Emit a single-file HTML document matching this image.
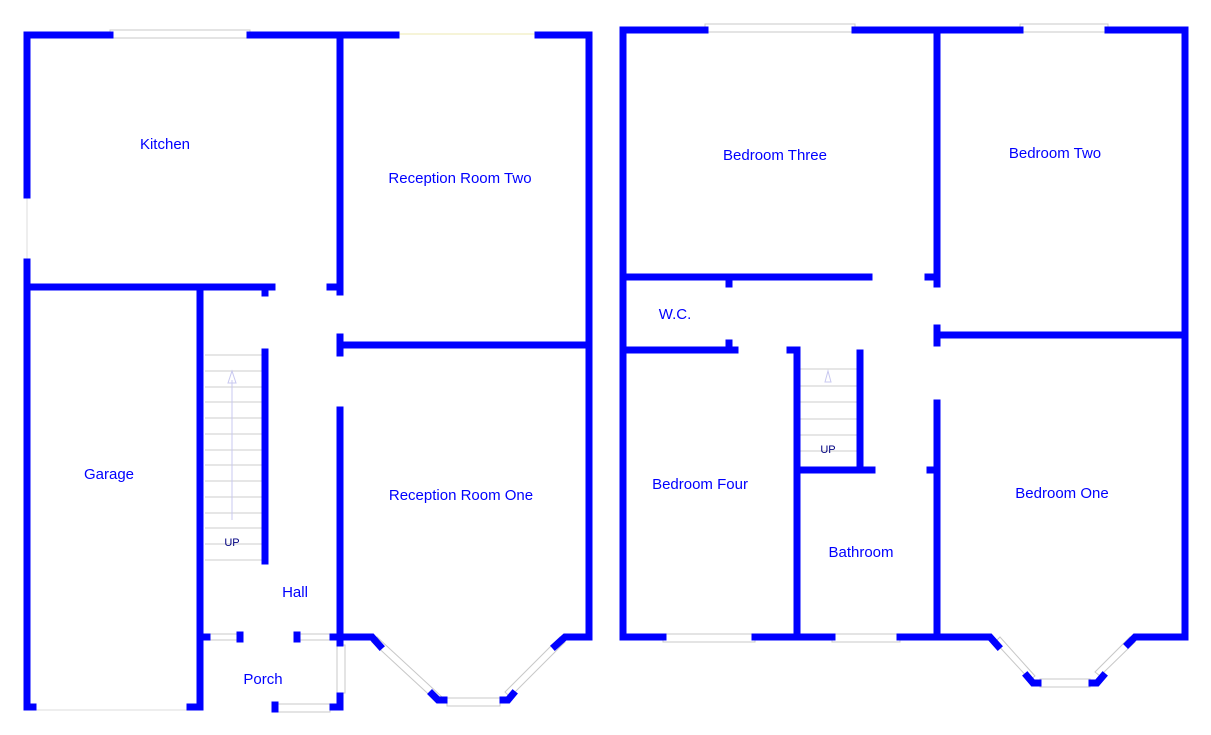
<!DOCTYPE html>
<html><head><meta charset="utf-8"><style>
html,body{margin:0;padding:0;background:#fff;}
svg{display:block}
text{font-family:"Liberation Sans",sans-serif;fill:#0000ff;font-size:15px;text-anchor:middle}
</style></head><body>
<svg width="1211" height="735" viewBox="0 0 1211 735" xmlns="http://www.w3.org/2000/svg">
<g stroke="#c8c8c8" stroke-width="1" fill="none">
<rect x="110" y="30" width="140" height="8"/>
<line x1="396" y1="34" x2="538" y2="34" stroke="#eee8b0"/>
<line x1="27" y1="195" x2="27" y2="262" stroke="#ddd"/>
<rect x="210" y="634" width="30" height="6"/>
<rect x="300" y="634" width="30" height="6"/>
<rect x="337" y="645" width="8" height="48"/>
<rect x="275" y="704" width="55" height="8"/>
<line x1="35" y1="710" x2="190" y2="710" stroke="#ddd"/>
<polygon points="372,642 437,702 442,697 377,637"/>
<rect x="447" y="698" width="53" height="8"/>
<polygon points="510,697 565,642 560,637 505,692"/>
<rect x="705" y="24" width="150" height="8"/>
<rect x="1020" y="24" width="88" height="8"/>
<rect x="663" y="634" width="92" height="8"/>
<rect x="832" y="634" width="68" height="8"/>
<polygon points="995,642 1030,680 1035,676 1000,637"/>
<rect x="1040" y="679" width="50" height="8"/>
<polygon points="1100,676 1135,642 1130,637 1095,672"/>
<g stroke="#ccc">
<line x1="205" y1="355" x2="262" y2="355"/><line x1="205" y1="371" x2="262" y2="371"/>
<line x1="205" y1="387" x2="262" y2="387"/><line x1="205" y1="402" x2="262" y2="402"/>
<line x1="205" y1="418" x2="262" y2="418"/><line x1="205" y1="434" x2="262" y2="434"/>
<line x1="205" y1="450" x2="262" y2="450"/><line x1="205" y1="465" x2="262" y2="465"/>
<line x1="205" y1="481" x2="262" y2="481"/><line x1="205" y1="497" x2="262" y2="497"/>
<line x1="205" y1="513" x2="262" y2="513"/><line x1="205" y1="528" x2="262" y2="528"/>
<line x1="205" y1="544" x2="262" y2="544"/><line x1="205" y1="560" x2="262" y2="560"/>
<line x1="232" y1="380" x2="232" y2="520" stroke="#c8c8f0"/>
<polygon points="232,371 228,383 236,383" stroke="#c8c8f0"/>
<line x1="800" y1="369" x2="857" y2="369"/><line x1="800" y1="386" x2="857" y2="386"/>
<line x1="800" y1="402" x2="857" y2="402"/><line x1="800" y1="419" x2="857" y2="419"/>
<line x1="800" y1="435" x2="857" y2="435"/><line x1="800" y1="451" x2="857" y2="451"/>
<polygon points="828,371 825,382 831,382" stroke="#c8c8f0"/>
</g>
</g>
<g stroke="#0000ff" stroke-width="7" fill="none" stroke-linecap="square">
<polyline points="110,35 27,35 27,195"/>
<line x1="250" y1="35" x2="396" y2="35"/>
<polyline points="538,35 589,35 589,637 565,637 555,646"/>
<line x1="27" y1="262" x2="27" y2="707"/>
<line x1="27" y1="707" x2="33" y2="707"/>
<line x1="190" y1="707" x2="200" y2="707"/>
<line x1="27" y1="287" x2="272" y2="287"/>
<line x1="265" y1="287" x2="265" y2="293"/>
<line x1="340" y1="35" x2="340" y2="292"/>
<line x1="330" y1="287" x2="340" y2="287"/>
<line x1="200" y1="287" x2="200" y2="707"/>
<line x1="340" y1="337" x2="340" y2="353"/>
<line x1="340" y1="345" x2="589" y2="345"/>
<line x1="265" y1="352" x2="265" y2="561"/>
<line x1="340" y1="410" x2="340" y2="643"/>
<line x1="200" y1="637" x2="207" y2="637"/>
<line x1="240" y1="635" x2="240" y2="639"/>
<line x1="297" y1="635" x2="297" y2="639"/>
<polyline points="333,637 372,637 380,646"/>
<line x1="340" y1="696" x2="340" y2="707"/>
<line x1="333" y1="707" x2="340" y2="707"/>
<line x1="275" y1="705" x2="275" y2="709"/>
<polyline points="432,694 438,700 444,700"/>
<polyline points="503,700 508,700 513,694"/>
<polyline points="705,30 623,30 623,637 663,637"/>
<line x1="855" y1="30" x2="1020" y2="30"/>
<polyline points="1108,30 1185,30 1185,637 1135,637 1128,644"/>
<line x1="937" y1="30" x2="937" y2="284"/>
<line x1="928" y1="277" x2="937" y2="277"/>
<line x1="623" y1="277" x2="869" y2="277"/>
<line x1="729" y1="277" x2="729" y2="284"/>
<line x1="623" y1="350" x2="735" y2="350"/>
<line x1="729" y1="343" x2="729" y2="350"/>
<polyline points="790,350 797,350 797,634"/>
<line x1="860" y1="353" x2="860" y2="470"/>
<line x1="797" y1="470" x2="872" y2="470"/>
<line x1="937" y1="328" x2="937" y2="343"/>
<line x1="937" y1="335" x2="1185" y2="335"/>
<line x1="937" y1="403" x2="937" y2="637"/>
<line x1="930" y1="470" x2="937" y2="470"/>
<line x1="755" y1="637" x2="832" y2="637"/>
<polyline points="900,637 990,637 998,646"/>
<polyline points="1027,676 1033,683 1038,683"/>
<polyline points="1092,683 1097,683 1103,676"/>
</g>
<text x="165" y="149">Kitchen</text>
<text x="460" y="183">Reception Room Two</text>
<text x="109" y="479">Garage</text>
<text x="461" y="500">Reception Room One</text>
<text x="295" y="597">Hall</text>
<text x="263" y="684">Porch</text>
<text x="232" y="546" style="font-size:11px;fill:#000080">UP</text>
<text x="775" y="160">Bedroom Three</text>
<text x="1055" y="158">Bedroom Two</text>
<text x="675" y="319">W.C.</text>
<text x="700" y="489">Bedroom Four</text>
<text x="1062" y="498">Bedroom One</text>
<text x="861" y="557">Bathroom</text>
<text x="828" y="453" style="font-size:11px;fill:#000080">UP</text>
</svg>
</body></html>
